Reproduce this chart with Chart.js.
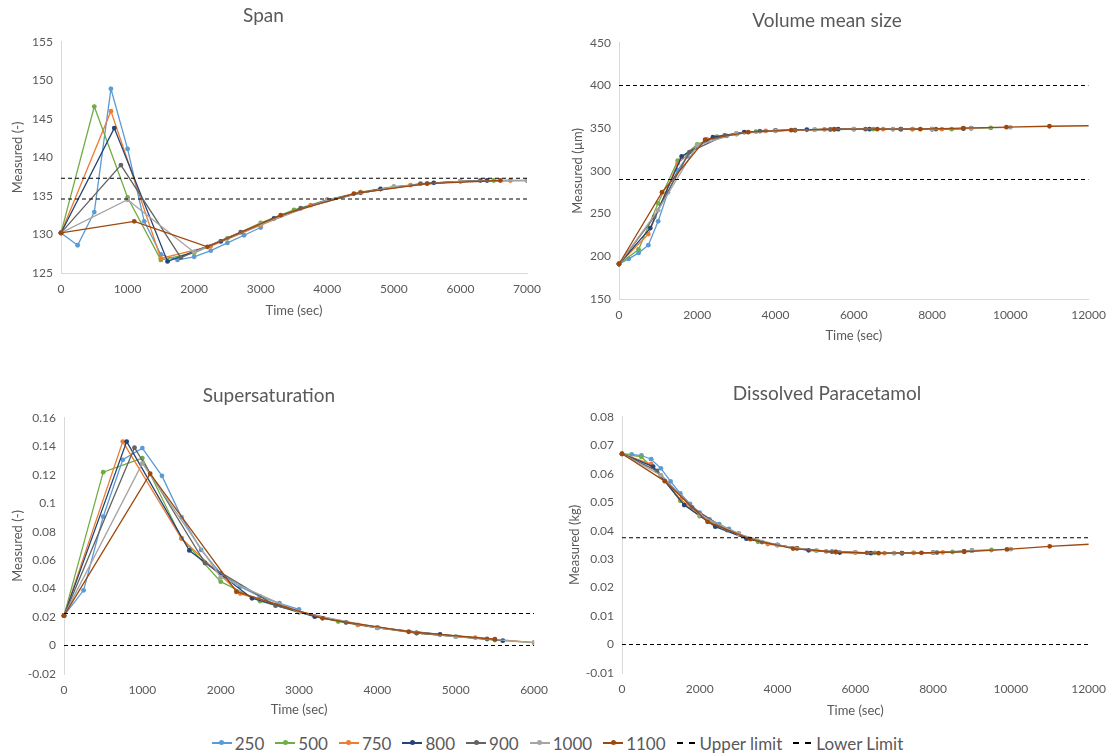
<!DOCTYPE html>
<html>
<head>
<meta charset="utf-8">
<title>Crystallisation runs by sampling interval</title>
<script src="https://cdn.jsdelivr.net/npm/chart.js@4.4.0/dist/chart.umd.min.js"></script>
<style>
  body { margin: 0; background: #fff; width: 1115px; height: 754px; position: relative; overflow: hidden; font-family: Lato, "Open Sans", sans-serif; }
  canvas { position: absolute; }
  #legend { position: absolute; left: 0; width: 1115px; top: 732px; height: 22px; display: flex; justify-content: center; align-items: center; gap: 11px; color: #595959; font-size: 17px; }
  #legend .item { display: flex; align-items: center; white-space: nowrap; }
  #legend .sym { display: inline-block; width: 20px; height: 1.5px; background: var(--c); position: relative; margin-right: 3px; }
  #legend .sym::after { content: ''; position: absolute; left: 7.5px; top: -2px; width: 5px; height: 5px; border-radius: 50%; background: var(--c); }
  #legend .sym.dash { background: none; height: 0; border-top: 2px dashed #000; width: 18px; margin-right: 5px; }
  #legend .sym.dash::after { display: none; }
</style>
</head>
<body>
<canvas id="spanChart" width="555" height="323" style="left:0;top:0"></canvas>
<canvas id="volumeChart" width="558" height="348" style="left:557px;top:0"></canvas>
<canvas id="superChart" width="557" height="352" style="left:0;top:370px"></canvas>
<canvas id="dissolvedChart" width="558" height="353" style="left:557px;top:370px"></canvas>
<div id="legend"></div>
<script>
// sampling interval of each run (sec)
const seriesLabels = ['250', '500', '750', '800', '900', '1000', '1100'];
const seriesColors = ['#5B9BD5', '#70AD47', '#ED7D31', '#264478', '#636363', '#A5A5A5', '#9E480E'];
const limitLabels = ['Upper limit', 'Lower Limit'];

// sample times per run
const times250 = [0, 250, 500, 750, 1000, 1250, 1500, 1750, 2000, 2250, 2500, 2750, 3000];
const times500 = [0, 500, 1000, 1500, 2000, 2500, 3000, 3500, 4000, 4500, 5000, 5500, 6000, 6500, 7000, 7500, 8000, 8500, 9000, 9500];
const times750 = [0, 750, 1500, 2250, 3000, 3750, 4500, 5250, 6000, 6750, 7500, 8250];
const times800 = [0, 800, 1600, 2400, 3200, 4000, 4800, 5600, 6400, 7200, 8000, 8800];
const times900 = [0, 900, 1800, 2700, 3600, 4500, 5400, 6300, 7200, 8100, 9000];
const times1000 = [0, 1000, 2000, 3000, 4000, 5000, 6000, 7000, 8000, 9000, 10000];
const times1100 = [0, 1100, 2200, 3300, 4400, 5500, 6600, 7700, 8800, 9900, 11000, 12100];
const seriesTimes = [times250, times500, times750, times800, times900, times1000, times1100];

// Span (-)
const span250 = [130.2, 128.6, 132.9, 148.9, 141.1, 131.7, 127.4, 126.7, 127.1, 127.9, 128.9, 129.9, 130.9];
const span500 = [130.2, 146.6, 134.8, 126.7, 127.6, 129.5, 131.5, 133.2, 134.5, 135.5, 136.2, 136.6, 136.9, 137.0, 137.0];
const span750 = [130.2, 146.0, 126.9, 128.5, 131.2, 133.8, 135.5, 136.4, 136.9, 137.0];
const span800 = [130.2, 143.8, 126.5, 129.1, 132.1, 134.5, 135.9, 136.7, 137.0];
const span900 = [130.2, 139.0, 127.0, 130.3, 133.4, 135.4, 136.6, 137.0];
const span1000 = [130.2, 134.5, 127.7, 131.3, 134.5, 136.2, 136.9, 137.0];
const span1100 = [130.2, 131.7, 128.4, 132.5, 135.3, 136.6, 137.0];
const spanLimits = [137.3, 134.6];

// Volume mean size (um)
const vol250 = [191, 197, 204, 213, 241, 275, 301, 317, 329, 335, 339, 341, 343];
const vol500 = [191, 208, 262, 312, 331, 340, 343.5, 346, 347, 347.7, 348.3, 348.5, 348.8, 348.8, 348.8, 348.8, 348.8, 348.8, 349.8, 350.3];
const vol750 = [191, 226, 309, 337, 343.5, 346.8, 347.7, 348.6, 348.8, 348.8, 348.8, 348.8];
const vol800 = [191, 233, 317, 339.5, 345.3, 347.5, 348.4, 348.8, 348.8, 348.8, 348.8, 349.6];
const vol900 = [191, 246, 322, 341.5, 346.5, 347.7, 348.5, 348.8, 348.8, 348.8, 350];
const vol1000 = [191, 254, 330, 343.5, 347, 348.3, 348.8, 348.8, 348.8, 349.8, 351];
const vol1100 = [191, 275, 336.5, 345.3, 347.7, 348.8, 348.8, 348.8, 350, 351.2, 352.3, 352.9];
const volLimits = [400, 290];

// Supersaturation (-)
const sup250 = [0.021, 0.0388, 0.0905, 0.1305, 0.1387, 0.1192, 0.0902, 0.0672, 0.0507, 0.0414, 0.0345, 0.0297, 0.0254];
const sup500 = [0.021, 0.1218, 0.1317, 0.0754, 0.0449, 0.0313, 0.0233, 0.0168, 0.0125, 0.0088, 0.0062, 0.0039, 0.0020];
const sup750 = [0.021, 0.1433, 0.0752, 0.0365, 0.0235, 0.0145, 0.0088, 0.0055, 0.0020];
const sup800 = [0.021, 0.1433, 0.0668, 0.0332, 0.0203, 0.0125, 0.0078, 0.0034];
const sup900 = [0.021, 0.139, 0.058, 0.028, 0.0162, 0.0088, 0.0046];
const sup1000 = [0.021, 0.128, 0.048, 0.0235, 0.0125, 0.0062, 0.002];
const sup1100 = [0.021, 0.1207, 0.0378, 0.0191, 0.0097, 0.0044];
const supLimits = [0.0225, 0];

// Dissolved paracetamol (kg)
const dis250 = [0.0670, 0.0668, 0.0664, 0.0651, 0.0619, 0.0573, 0.0531, 0.0494, 0.0463, 0.0440, 0.0423, 0.0406, 0.0390];
const dis500 = [0.0670, 0.0659, 0.0592, 0.0505, 0.0451, 0.0418, 0.0388, 0.0361, 0.0349, 0.0338, 0.0330, 0.0325, 0.0324, 0.0322, 0.0321, 0.0322, 0.0323, 0.0325, 0.0330, 0.0332];
const dis750 = [0.0670, 0.0634, 0.0510, 0.0431, 0.0388, 0.0353, 0.0338, 0.0327, 0.0323, 0.0321, 0.0322, 0.0324];
const dis800 = [0.0670, 0.0625, 0.0490, 0.0414, 0.0372, 0.0350, 0.0331, 0.0323, 0.0321, 0.0321, 0.0323, 0.0327];
const dis900 = [0.0670, 0.0610, 0.0482, 0.0402, 0.0360, 0.0338, 0.0326, 0.0322, 0.0321, 0.0323, 0.0330];
const dis1000 = [0.0670, 0.0595, 0.0455, 0.0388, 0.0349, 0.0330, 0.0324, 0.0321, 0.0323, 0.0330, 0.0335];
const dis1100 = [0.0670, 0.0574, 0.0431, 0.0370, 0.0337, 0.0325, 0.0321, 0.0322, 0.0326, 0.0334, 0.0345, 0.0353];
const disLimits = [0.0375, 0];

const TEXT = '#595959';
const FONT = 'Lato, "Open Sans", sans-serif';

function trimNum(v) {
    return String(Number(v.toFixed(4)));
}

function buildChart(id, opt) {
    const datasets = [];
    const total = seriesLabels.length + limitLabels.length;
    seriesLabels.forEach((label, i) => {
        const color = seriesColors[i];
        datasets.push({
            label,
            data: opt.values[i].map((y, j) => ({ x: seriesTimes[i][j], y })),
            borderColor: color,
            backgroundColor: color,
            borderWidth: 1.3,
            pointRadius: 2.4,
            pointBorderWidth: 0,
            pointHoverRadius: 3,
            tension: 0,
            order: total - i,
            clip: { left: 6, top: 6, bottom: 6, right: 0 }
        });
    });
    opt.limits.forEach((y, k) => {
        datasets.push({
            label: limitLabels[k],
            data: [{ x: 0, y }, { x: opt.xMax, y }],
            borderColor: '#000',
            borderWidth: 1.1,
            borderDash: [4, 3],
            pointRadius: 0,
            order: total - seriesLabels.length - k
        });
    });

    return new Chart(document.getElementById(id), {
        type: 'line',
        data: { datasets },
        options: {
            responsive: false,
            animation: false,
            layout: { padding: { left: 0, right: opt.padRight, top: 0, bottom: 0 } },
            plugins: {
                legend: { display: false },
                tooltip: { enabled: false },
                title: {
                    display: true,
                    text: opt.title,
                    color: TEXT,
                    font: { family: FONT, size: 19, weight: 'normal' },
                    padding: opt.titlePad
                }
            },
            scales: {
                x: {
                    type: 'linear',
                    min: 0,
                    max: opt.xMax,
                    afterFit: s => { s.height = opt.xAxisH; },
                    ticks: { stepSize: opt.xStep, color: TEXT, padding: 9, font: { family: FONT, size: 12 }, callback: v => String(v) },
                    grid: { display: false, drawTicks: false },
                    border: { display: opt.xBorder, color: '#D9D9D9', width: 1 },
                    title: { display: true, text: 'Time (sec)', color: TEXT, font: { family: FONT, size: 13 }, padding: { top: 0, bottom: 4 } }
                },
                y: {
                    min: opt.yMin,
                    max: opt.yMax,
                    afterFit: s => { s.width = opt.yAxisW; },
                    ticks: { stepSize: opt.yStep, color: TEXT, padding: 8, font: { family: FONT, size: 12 }, callback: trimNum },
                    grid: { display: false, drawTicks: false },
                    border: { display: true, color: '#D9D9D9', width: 1 },
                    title: { display: true, text: opt.yTitle, color: TEXT, font: { family: FONT, size: 13 }, padding: { top: opt.yTitlePad, bottom: 0 } }
                }
            }
        }
    });
}

buildChart('spanChart', {
    title: 'Span', yTitle: 'Measured (-)',
    values: [span250, span500, span750, span800, span900, span1000, span1100], limits: spanLimits,
    xMax: 7000, xStep: 1000, yMin: 125, yMax: 155, yStep: 5,
    titlePad: { top: 4, bottom: 15 }, padRight: 28, yAxisW: 61, xAxisH: 50, yTitlePad: 10, xBorder: true
});

buildChart('volumeChart', {
    title: 'Volume mean size', yTitle: 'Measured (µm)',
    values: [vol250, vol500, vol750, vol800, vol900, vol1000, vol1100], limits: volLimits,
    xMax: 12000, xStep: 2000, yMin: 150, yMax: 450, yStep: 50,
    titlePad: { top: 9, bottom: 11 }, padRight: 18, yAxisW: 62, xAxisH: 49, yTitlePad: 13, xBorder: true
});

buildChart('superChart', {
    title: 'Supersaturation', yTitle: 'Measured (-)',
    values: [sup250, sup500, sup750, sup800, sup900, sup1000, sup1100], limits: supLimits,
    xMax: 6000, xStep: 1000, yMin: -0.02, yMax: 0.16, yStep: 0.02,
    titlePad: { top: 14, bottom: 11 }, padRight: 19, yAxisW: 64, xAxisH: 48, yTitlePad: 10, xBorder: false
});

buildChart('dissolvedChart', {
    title: 'Dissolved Paracetamol', yTitle: 'Measured (kg)',
    values: [dis250, dis500, dis750, dis800, dis900, dis1000, dis1100], limits: disLimits,
    xMax: 12000, xStep: 2000, yMin: -0.01, yMax: 0.08, yStep: 0.01,
    titlePad: { top: 12, bottom: 12 }, padRight: 18, yAxisW: 65, xAxisH: 50, yTitlePad: 10, xBorder: false
});

// shared legend under the four panels
const legend = document.getElementById('legend');
seriesLabels.forEach((label, i) => {
    const item = document.createElement('span');
    item.className = 'item';
    item.innerHTML = `<span class="sym" style="--c:${seriesColors[i]}"></span>${label}`;
    legend.appendChild(item);
});
limitLabels.forEach(label => {
    const item = document.createElement('span');
    item.className = 'item';
    item.innerHTML = `<span class="sym dash"></span>${label}`;
    legend.appendChild(item);
});
</script>
</body>
</html>
